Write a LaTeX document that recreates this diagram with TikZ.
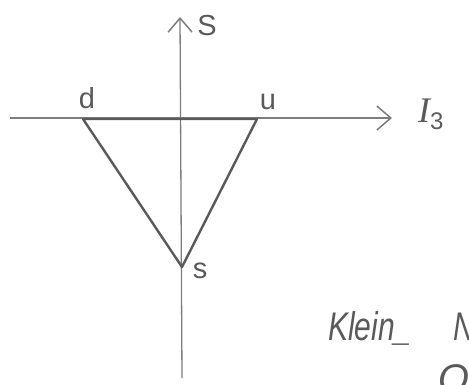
\documentclass[tikz,border=0pt]{standalone}
\usepackage{fontspec}
\setmainfont{Liberation Sans}
\newfontfamily\serifhand{Liberation Serif}
\usetikzlibrary{arrows.meta}
\definecolor{pencil}{RGB}{90,90,90}
\definecolor{pencillight}{RGB}{125,125,125}
\tikzset{
  axis/.style={draw=pencillight, line width=1.3pt},
  axisarrow/.style={axis, -{Straight Barb[length=14pt,width=24pt,line width=1.5pt]}},
  edge/.style={draw=pencil, line width=2.4pt, line join=round},
  lbl/.style={text=pencil, inner sep=0pt, font=\fontsize{29}{32}\selectfont},
  hand/.style={text=pencil, inner sep=0pt, font=\fontsize{40}{44}\selectfont\itshape},
}
\begin{document}
\begin{tikzpicture}[x=1pt,y=-1pt]
  \useasboundingbox (0,0) rectangle (469,384);
  \clip (0,0) rectangle (469,384);
  % axes
  \coordinate (ytop) at (180,17);
  \coordinate (ybot) at (182,378);
  \coordinate (xleft) at (10,118);
  \coordinate (xright) at (392,118);
  \draw[axisarrow] (ybot) -- (ytop);
  \draw[axisarrow] (xleft) -- (xright);
  % triangle vertices
  \coordinate (dv) at (83,119);
  \coordinate (uv) at (257,119);
  \coordinate (sv) at (182,267);
  \draw[edge] (dv) -- (uv) -- (sv) -- cycle;
  % labels
  \node[lbl] (Slab) at (207,26) {S};
  \node[lbl, anchor=base west] (I3lab) at (418,122) {{\serifhand\itshape\fontsize{36}{40}\selectfont I}\raisebox{-7pt}{\fontsize{24}{26}\selectfont 3}};
  \node[lbl] (dlab) at (87,98) {d};
  \node[lbl] (ulab) at (268,102) {u};
  \node[lbl] (slab) at (200,271) {s};
  \node[hand, anchor=base west] (klein) at (328,340) {\scalebox{0.75}[1]{Klein\_}\hspace{42pt}\scalebox{0.75}[1]{N}};
  \node[hand, anchor=base west] (qlab) at (438,392) {Q};
\end{tikzpicture}
\end{document}
